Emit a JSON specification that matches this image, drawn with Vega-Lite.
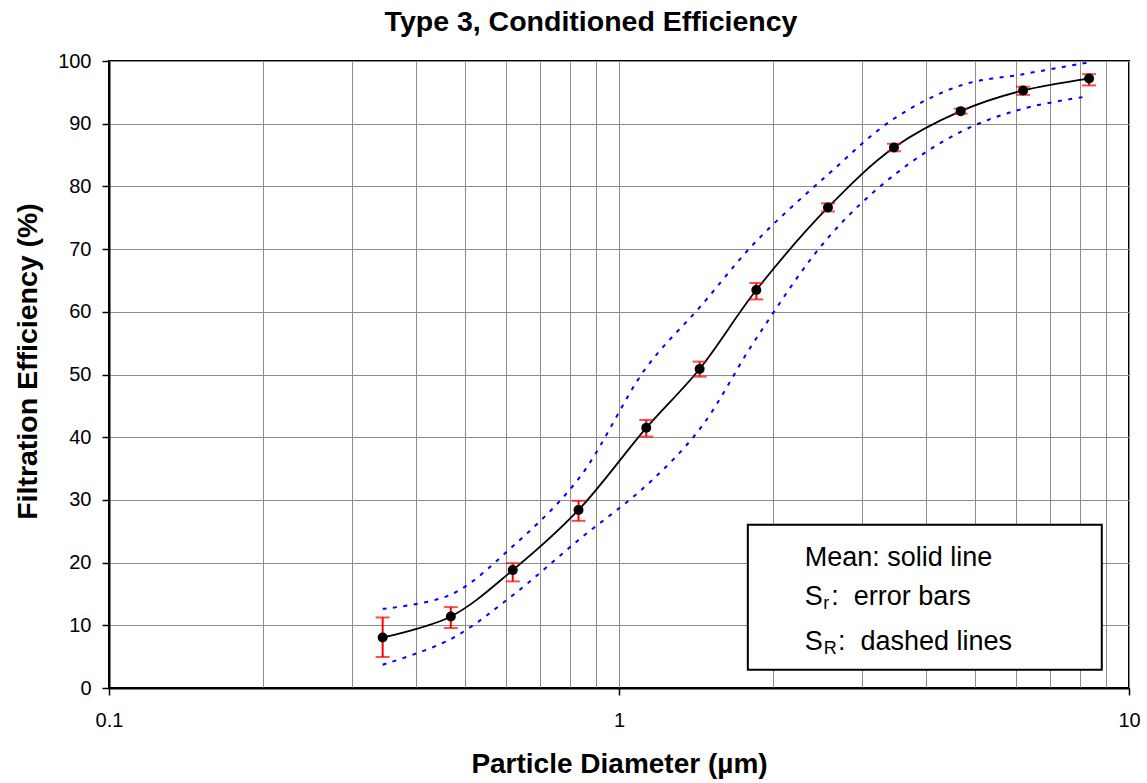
{
  "$schema": "https://vega.github.io/schema/vega-lite/v6.json",
  "width": 1020,
  "height": 627,
  "autosize": {"type": "none"},
  "padding": {"left": 109, "top": 61, "right": 18, "bottom": 95},
  "background": "white",
  "title": {
    "text": "Type 3, Conditioned Efficiency",
    "font": "Liberation Sans",
    "fontSize": 28.5,
    "fontWeight": "bold",
    "color": "black",
    "anchor": "middle",
    "dx": -28,
    "offset": 15
  },
  "config": {
    "view": {"stroke": "black", "strokeWidth": 2},
    "axis": {
      "labelFont": "Liberation Sans",
      "titleFont": "Liberation Sans",
      "labelColor": "black",
      "titleColor": "black",
      "domainColor": "black",
      "domainWidth": 2,
      "tickColor": "black",
      "tickWidth": 1.5,
      "gridColor": "#8c8c8c",
      "gridWidth": 1
    }
  },
  "data": {
    "values": [
      {"d": 0.344, "mean": 8.06, "srLo": 4.94, "srHi": 11.25, "SRlo": 3.71, "SRhi": 12.63},
      {"d": 0.468, "mean": 11.41, "srLo": 9.56, "srHi": 12.9, "SRlo": 7.8, "SRhi": 14.9},
      {"d": 0.619, "mean": 18.8, "srLo": 17.0, "srHi": 19.9, "SRlo": 14.8, "SRhi": 22.6},
      {"d": 0.833, "mean": 28.4, "srLo": 26.66, "srHi": 29.85, "SRlo": 23.6, "SRhi": 33.35},
      {"d": 1.131, "mean": 41.5, "srLo": 40.1, "srHi": 42.75, "SRlo": 32.3, "SRhi": 51.1},
      {"d": 1.439, "mean": 50.88, "srLo": 49.65, "srHi": 52.05, "SRlo": 41.27, "SRhi": 60.7},
      {"d": 1.859, "mean": 63.47, "srLo": 61.98, "srHi": 64.6, "SRlo": 55.77, "SRhi": 71.27},
      {"d": 2.569, "mean": 76.64, "srLo": 76.0, "srHi": 77.3, "SRlo": 71.8, "SRhi": 81.9},
      {"d": 3.461, "mean": 86.2, "srLo": 85.6, "srHi": 86.8, "SRlo": 81.8, "SRhi": 90.8},
      {"d": 4.677, "mean": 92.0, "srLo": 91.6, "srHi": 92.4, "SRlo": 88.7, "SRhi": 96.1},
      {"d": 6.2, "mean": 95.3, "srLo": 94.6, "srHi": 95.9, "SRlo": 92.4, "SRhi": 97.9},
      {"d": 8.35, "mean": 97.2, "srLo": 96.1, "srHi": 97.9, "SRlo": 94.4, "SRhi": 99.8}
    ]
  },
  "layer": [
    {
      "encoding": {
        "x": {
          "field": "d",
          "type": "quantitative",
          "scale": {"type": "log", "domain": [0.1, 10], "nice": false},
          "axis": {
            "title": "Particle Diameter (µm)",
            "titleFontSize": 28,
            "titleFontWeight": "bold",
            "titlePadding": 20,
            "values": [0.1, 0.2, 0.3, 0.4, 0.5, 0.6, 0.7, 0.8, 0.9, 1, 2, 3, 4, 5, 6, 7, 8, 9, 10],
            "labelExpr": "datum.value == 0.1 ? '0.1' : datum.value == 1 ? '1' : datum.value == 10 ? '10' : ''",
            "labelFontSize": 20,
            "labelPadding": 15,
            "labelOverlap": false,
            "labelFlush": false,
            "tickSize": 7,
            "tickOpacity": {"condition": {"test": "datum.value == 0.1 || datum.value == 1 || datum.value == 10", "value": 1}, "value": 0},
            "grid": true
          }
        },
        "y": {
          "field": "mean",
          "type": "quantitative",
          "scale": {"domain": [0, 100], "nice": false},
          "axis": {
            "title": "Filtration Efficiency (%)",
            "titleFontSize": 28.5,
            "titleFontWeight": "bold",
            "titlePadding": 15,
            "titleY": 300,
            "values": [0, 5, 10, 15, 20, 25, 30, 35, 40, 45, 50, 55, 60, 65, 70, 75, 80, 85, 90, 95, 100],
            "labelExpr": "datum.value % 10 == 0 ? datum.label : ''",
            "labelFontSize": 20,
            "labelPadding": 11,
            "labelOverlap": false,
            "tickSize": 7,
            "grid": true,
            "gridOpacity": {"condition": {"test": "datum.value % 10 == 0", "value": 1}, "value": 0}
          }
        }
      },
      "layer": [
        {
          "mark": {"type": "line", "interpolate": "catmull-rom", "color": "#0000ff", "strokeWidth": 2, "strokeDash": [4, 6.5]},
          "encoding": {"y": {"field": "SRhi", "type": "quantitative"}}
        },
        {
          "mark": {"type": "line", "interpolate": "catmull-rom", "color": "#0000ff", "strokeWidth": 2, "strokeDash": [4, 6.5]},
          "encoding": {"y": {"field": "SRlo", "type": "quantitative"}}
        },
        {
          "mark": {"type": "line", "interpolate": "catmull-rom", "color": "black", "strokeWidth": 1.8}
        },
        {
          "mark": {"type": "rule", "color": "#ff0000", "strokeWidth": 2},
          "encoding": {"y": {"field": "srLo", "type": "quantitative"}, "y2": {"field": "srHi"}}
        },
        {
          "mark": {"type": "tick", "orient": "horizontal", "color": "#ff0000", "size": 14, "thickness": 2},
          "encoding": {"y": {"field": "srLo", "type": "quantitative"}}
        },
        {
          "mark": {"type": "tick", "orient": "horizontal", "color": "#ff0000", "size": 14, "thickness": 2},
          "encoding": {"y": {"field": "srHi", "type": "quantitative"}}
        },
        {
          "mark": {"type": "circle", "color": "black", "opacity": 1, "size": 100}
        }
      ]
    },
    {
      "data": {"values": [{"k": 1}]},
      "mark": {"type": "rect", "fill": "white", "stroke": "black", "strokeWidth": 2},
      "encoding": {
        "x": {"datum": 1.789, "type": "quantitative"},
        "x2": {"datum": 8.843},
        "y": {"datum": 26.02, "type": "quantitative"},
        "y2": {"datum": 2.92}
      }
    },
    {
      "data": {"values": [{"k": 1}]},
      "mark": {"type": "text", "text": "Mean: solid line", "align": "left", "baseline": "alphabetic", "font": "Liberation Sans", "fontSize": 27, "color": "black"},
      "encoding": {"x": {"datum": 2.312, "type": "quantitative"}, "y": {"datum": 19.53, "type": "quantitative"}}
    },
    {
      "data": {"values": [{"k": 1}]},
      "mark": {"type": "text", "text": "S", "align": "left", "baseline": "alphabetic", "font": "Liberation Sans", "fontSize": 27, "color": "black"},
      "encoding": {"x": {"datum": 2.312, "type": "quantitative"}, "y": {"datum": 13.16, "type": "quantitative"}}
    },
    {
      "data": {"values": [{"k": 1}]},
      "mark": {"type": "text", "text": "r", "align": "left", "baseline": "alphabetic", "font": "Liberation Sans", "fontSize": 18, "dx": 18.5, "dy": 4, "color": "black"},
      "encoding": {"x": {"datum": 2.312, "type": "quantitative"}, "y": {"datum": 13.16, "type": "quantitative"}}
    },
    {
      "data": {"values": [{"k": 1}]},
      "mark": {"type": "text", "text": ":\u00a0\u00a0error bars", "align": "left", "baseline": "alphabetic", "font": "Liberation Sans", "fontSize": 27, "dx": 26.7, "color": "black"},
      "encoding": {"x": {"datum": 2.312, "type": "quantitative"}, "y": {"datum": 13.16, "type": "quantitative"}}
    },
    {
      "data": {"values": [{"k": 1}]},
      "mark": {"type": "text", "text": "S", "align": "left", "baseline": "alphabetic", "font": "Liberation Sans", "fontSize": 27, "color": "black"},
      "encoding": {"x": {"datum": 2.312, "type": "quantitative"}, "y": {"datum": 6.1, "type": "quantitative"}}
    },
    {
      "data": {"values": [{"k": 1}]},
      "mark": {"type": "text", "text": "R", "align": "left", "baseline": "alphabetic", "font": "Liberation Sans", "fontSize": 18, "dx": 19, "dy": 4, "color": "black"},
      "encoding": {"x": {"datum": 2.312, "type": "quantitative"}, "y": {"datum": 6.1, "type": "quantitative"}}
    },
    {
      "data": {"values": [{"k": 1}]},
      "mark": {"type": "text", "text": ":\u00a0\u00a0dashed lines", "align": "left", "baseline": "alphabetic", "font": "Liberation Sans", "fontSize": 27, "dx": 33.3, "color": "black"},
      "encoding": {"x": {"datum": 2.312, "type": "quantitative"}, "y": {"datum": 6.1, "type": "quantitative"}}
    }
  ]
}
